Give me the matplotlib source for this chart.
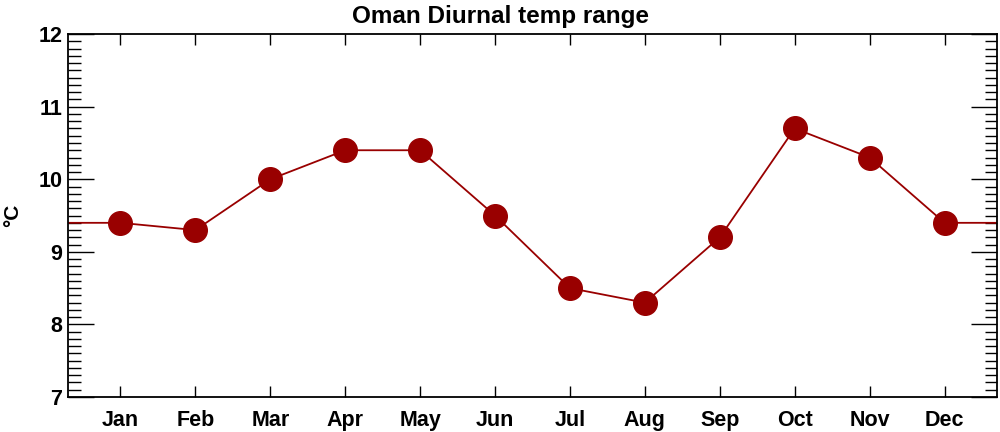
import matplotlib
matplotlib.use("Agg")
import matplotlib.pyplot as plt
import numpy as np
from matplotlib.ticker import MultipleLocator

months = ['Jan', 'Feb', 'Mar', 'Apr', 'May', 'Jun',
          'Jul', 'Aug', 'Sep', 'Oct', 'Nov', 'Dec']
dtr = [9.4, 9.3, 10.0, 10.4, 10.4, 9.5, 8.5, 8.3, 9.2, 10.7, 10.3, 9.4]

plt.rcParams['font.family'] = ['Liberation Sans', 'DejaVu Sans']
plt.rcParams['font.weight'] = 'bold'

red = '#990000'
x = np.arange(1, 13)

fig = plt.figure(figsize=(10, 4.32), dpi=100)
ax = fig.add_axes([0.068, 0.081, 0.929, 0.840])

# wrap around so the line runs to both edges
xw = np.concatenate([[0], x, [13]])
yw = np.concatenate([[dtr[-1]], dtr, [dtr[0]]])
ax.plot(xw, yw, color=red, linewidth=1.3, zorder=2)
ax.plot(x, dtr, 'o', color=red, markersize=17, zorder=3)

ax.set_xlim(0.3, 12.7)
ax.set_ylim(7, 12)
ax.set_xticks(x)
ax.set_xticklabels(months)
ax.yaxis.set_major_locator(MultipleLocator(1))
ax.yaxis.set_minor_locator(MultipleLocator(0.1))

ax.tick_params(axis='both', which='both', direction='in',
               top=True, right=True, labelsize=15.5, width=1)
ax.tick_params(axis='y', which='major', length=19, pad=4)
ax.tick_params(axis='y', which='minor', length=9)
ax.tick_params(axis='x', which='major', length=8, pad=9)
for s in ax.spines.values():
    s.set_linewidth(1.3)

ax.set_ylabel('°C', fontsize=15, fontweight='bold', labelpad=12)
fig.text(0.5, 1 - 16 / 432, 'Oman Diurnal temp range', fontsize=17.5,
         fontweight='bold', ha='center', va='center')

fig.savefig('out.png', dpi=100)
